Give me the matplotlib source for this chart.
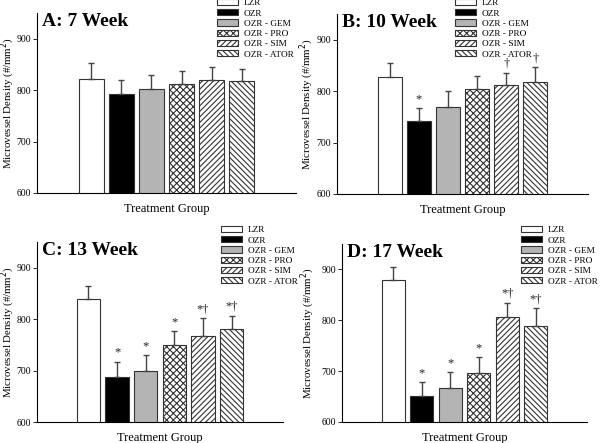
import numpy as np
import matplotlib
matplotlib.use("Agg")
import matplotlib.pyplot as plt

plt.rcParams['font.family'] = ['Liberation Serif', 'DejaVu Serif']
plt.rcParams['hatch.linewidth'] = 0.8

groups = ["LZR", "OZR", "OZR - GEM", "OZR - PRO", "OZR - SIM", "OZR - ATOR"]
titles = ["A: 7 Week", "B: 10 Week", "C: 13 Week", "D: 17 Week"]

# bar heights and top of error bar, per panel
means = [
    [821, 792, 803, 811, 819, 818],
    [828, 741, 769, 804, 812, 818],
    [839, 688, 699, 750, 768, 780],
    [880, 652, 667, 696, 806, 788],
]
tops = [
    [852, 819, 829, 837, 845, 842],
    [855, 767, 800, 830, 836, 846],
    [864, 717, 730, 776, 802, 807],
    [904, 678, 698, 727, 834, 824],
]
marks = [
    ["", "", "", "", "", ""],
    ["", "*", "", "", "\u2020", "\u2020"],
    ["", "*", "*", "*", "*\u2020", "*\u2020"],
    ["", "*", "*", "*", "*\u2020", "*\u2020"],
]

colors = ["white", "black", "#b4b4b4", "white", "white", "white"]
hatches = [None, None, None, "xxxxx", "//////", "\\\\\\\\\\\\"]

W, H = 600, 443
fig = plt.figure(figsize=(6, 4.43), dpi=100)

# axes boxes in pixels: left, top, right, bottom
boxes = [(37, 13, 296, 193), (337, 14, 588, 194), (37, 242, 283, 422), (342, 244, 587, 422)]
legpos = [(217, -1), (455, -1), (221, 226), (521, 226)]
labx = [-0.077, -0.082, -0.081, -0.10]

x = np.arange(len(groups))
for k in range(4):
    l, t, r, b = boxes[k]
    ax = fig.add_axes([l / W, 1 - b / H, (r - l) / W, (b - t) / H])
    bars = []
    for i in range(len(groups)):
        bar = ax.bar(x[i], means[k][i], width=0.82, bottom=0, color=colors[i],
                     edgecolor="#333333", linewidth=0.8, hatch=hatches[i], label=groups[i])
        bars.append(bar)
        err = tops[k][i] - means[k][i]
        ax.errorbar(x[i], means[k][i], yerr=[[0], [err]], color="#444444",
                    elinewidth=1.0, capsize=2.5, capthick=1.0, fmt="none")
        if marks[k][i]:
            ax.text(x[i], tops[k][i] + 6, marks[k][i], ha="center", va="bottom",
                    fontsize=9, color="#222222")
    ax.set_ylim(600, 950)
    ax.set_xlim(-1.8, 6.8)
    ax.set_yticks([600, 700, 800, 900])
    ax.tick_params(axis="y", labelsize=7, length=3, width=0.6, direction="out", pad=1.2)
    ax.set_xticks([])
    ax.spines["top"].set_visible(False)
    ax.spines["right"].set_visible(False)
    for s in ("left", "bottom"):
        ax.spines[s].set_linewidth(0.8)
    ax.set_ylabel("Microvessel Density (#/mm$^2$)", fontsize=7.8)
    ax.yaxis.set_label_coords(labx[k], 0.5)
    ax.set_xlabel("Treatment Group", fontsize=9, labelpad=7)
    ax.text(0.02, 1.0, titles[k], transform=ax.transAxes, fontsize=14,
            fontweight="bold", ha="left", va="top")
    lx, ly = legpos[k]
    fig.legend(handles=[bb[0] for bb in bars], labels=groups, loc="upper left",
               bbox_to_anchor=(lx / W, 1 - ly / H), frameon=False, fontsize=6.7,
               labelspacing=0.2, handlelength=2.3, handleheight=0.65,
               handletextpad=0.6, borderpad=0, borderaxespad=0)

fig.savefig("out.png", dpi=100)
